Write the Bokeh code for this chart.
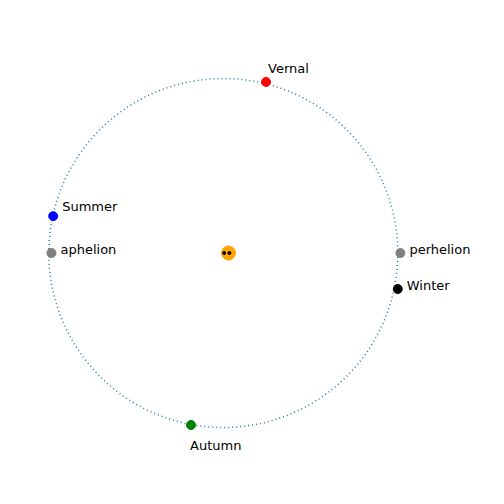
from bokeh.plotting import figure
from bokeh.models import Range1d
from bokeh.core.properties import value
from bokeh.embed import file_html
from bokeh.resources import INLINE

# orbit points (unit radius, sun near the centre)
names = ["Vernal", "Summer", "aphelion", "perhelion", "Winter", "Autumn"]
xs = [0.23, -0.99, -1.0, 1.0, 0.985, -0.20]
ys = [0.975, 0.21, 0.0, 0.0, -0.205, -0.98]
colors = ["red", "blue", "gray", "gray", "black", "green"]
sun_x, sun_y = 0.015, 0.0
dots_x = [-0.01, 0.02]
dots_y = [0.0, 0.0]

p = figure(width=488, height=488, output_backend="svg", toolbar_location=None,
           x_range=Range1d(-1.292, 1.505), y_range=Range1d(-1.342, 1.439),
           min_border=0)
p.axis.visible = False
p.grid.visible = False
p.outline_line_color = None

p.circle(x=[-0.015], y=[0.0], radius=1.0, fill_color=None, line_color="#1f77b4",
         line_dash="1 3", line_width=1.5)
p.scatter(x=[sun_x], y=[sun_y], size=14, color="orange")
p.scatter(x=dots_x, y=dots_y, size=3, color="black")
p.scatter(x=xs, y=ys, size=9, color=colors)

offsets = {"Vernal": (2, -13), "Summer": (9, -10), "aphelion": (9, -4),
           "perhelion": (9, -4), "Winter": (9, -3), "Autumn": (-1, 21)}
for n, x, y in zip(names, xs, ys):
    dx, dy = offsets[n]
    p.text(x=[x], y=[y], text=[n], x_offset=dx, y_offset=dy,
           text_font=value("DejaVu Sans"), text_font_size="13px",
           text_align="left", text_baseline="middle", text_color="black")

open("out.html", "w").write(file_html(p, INLINE))
